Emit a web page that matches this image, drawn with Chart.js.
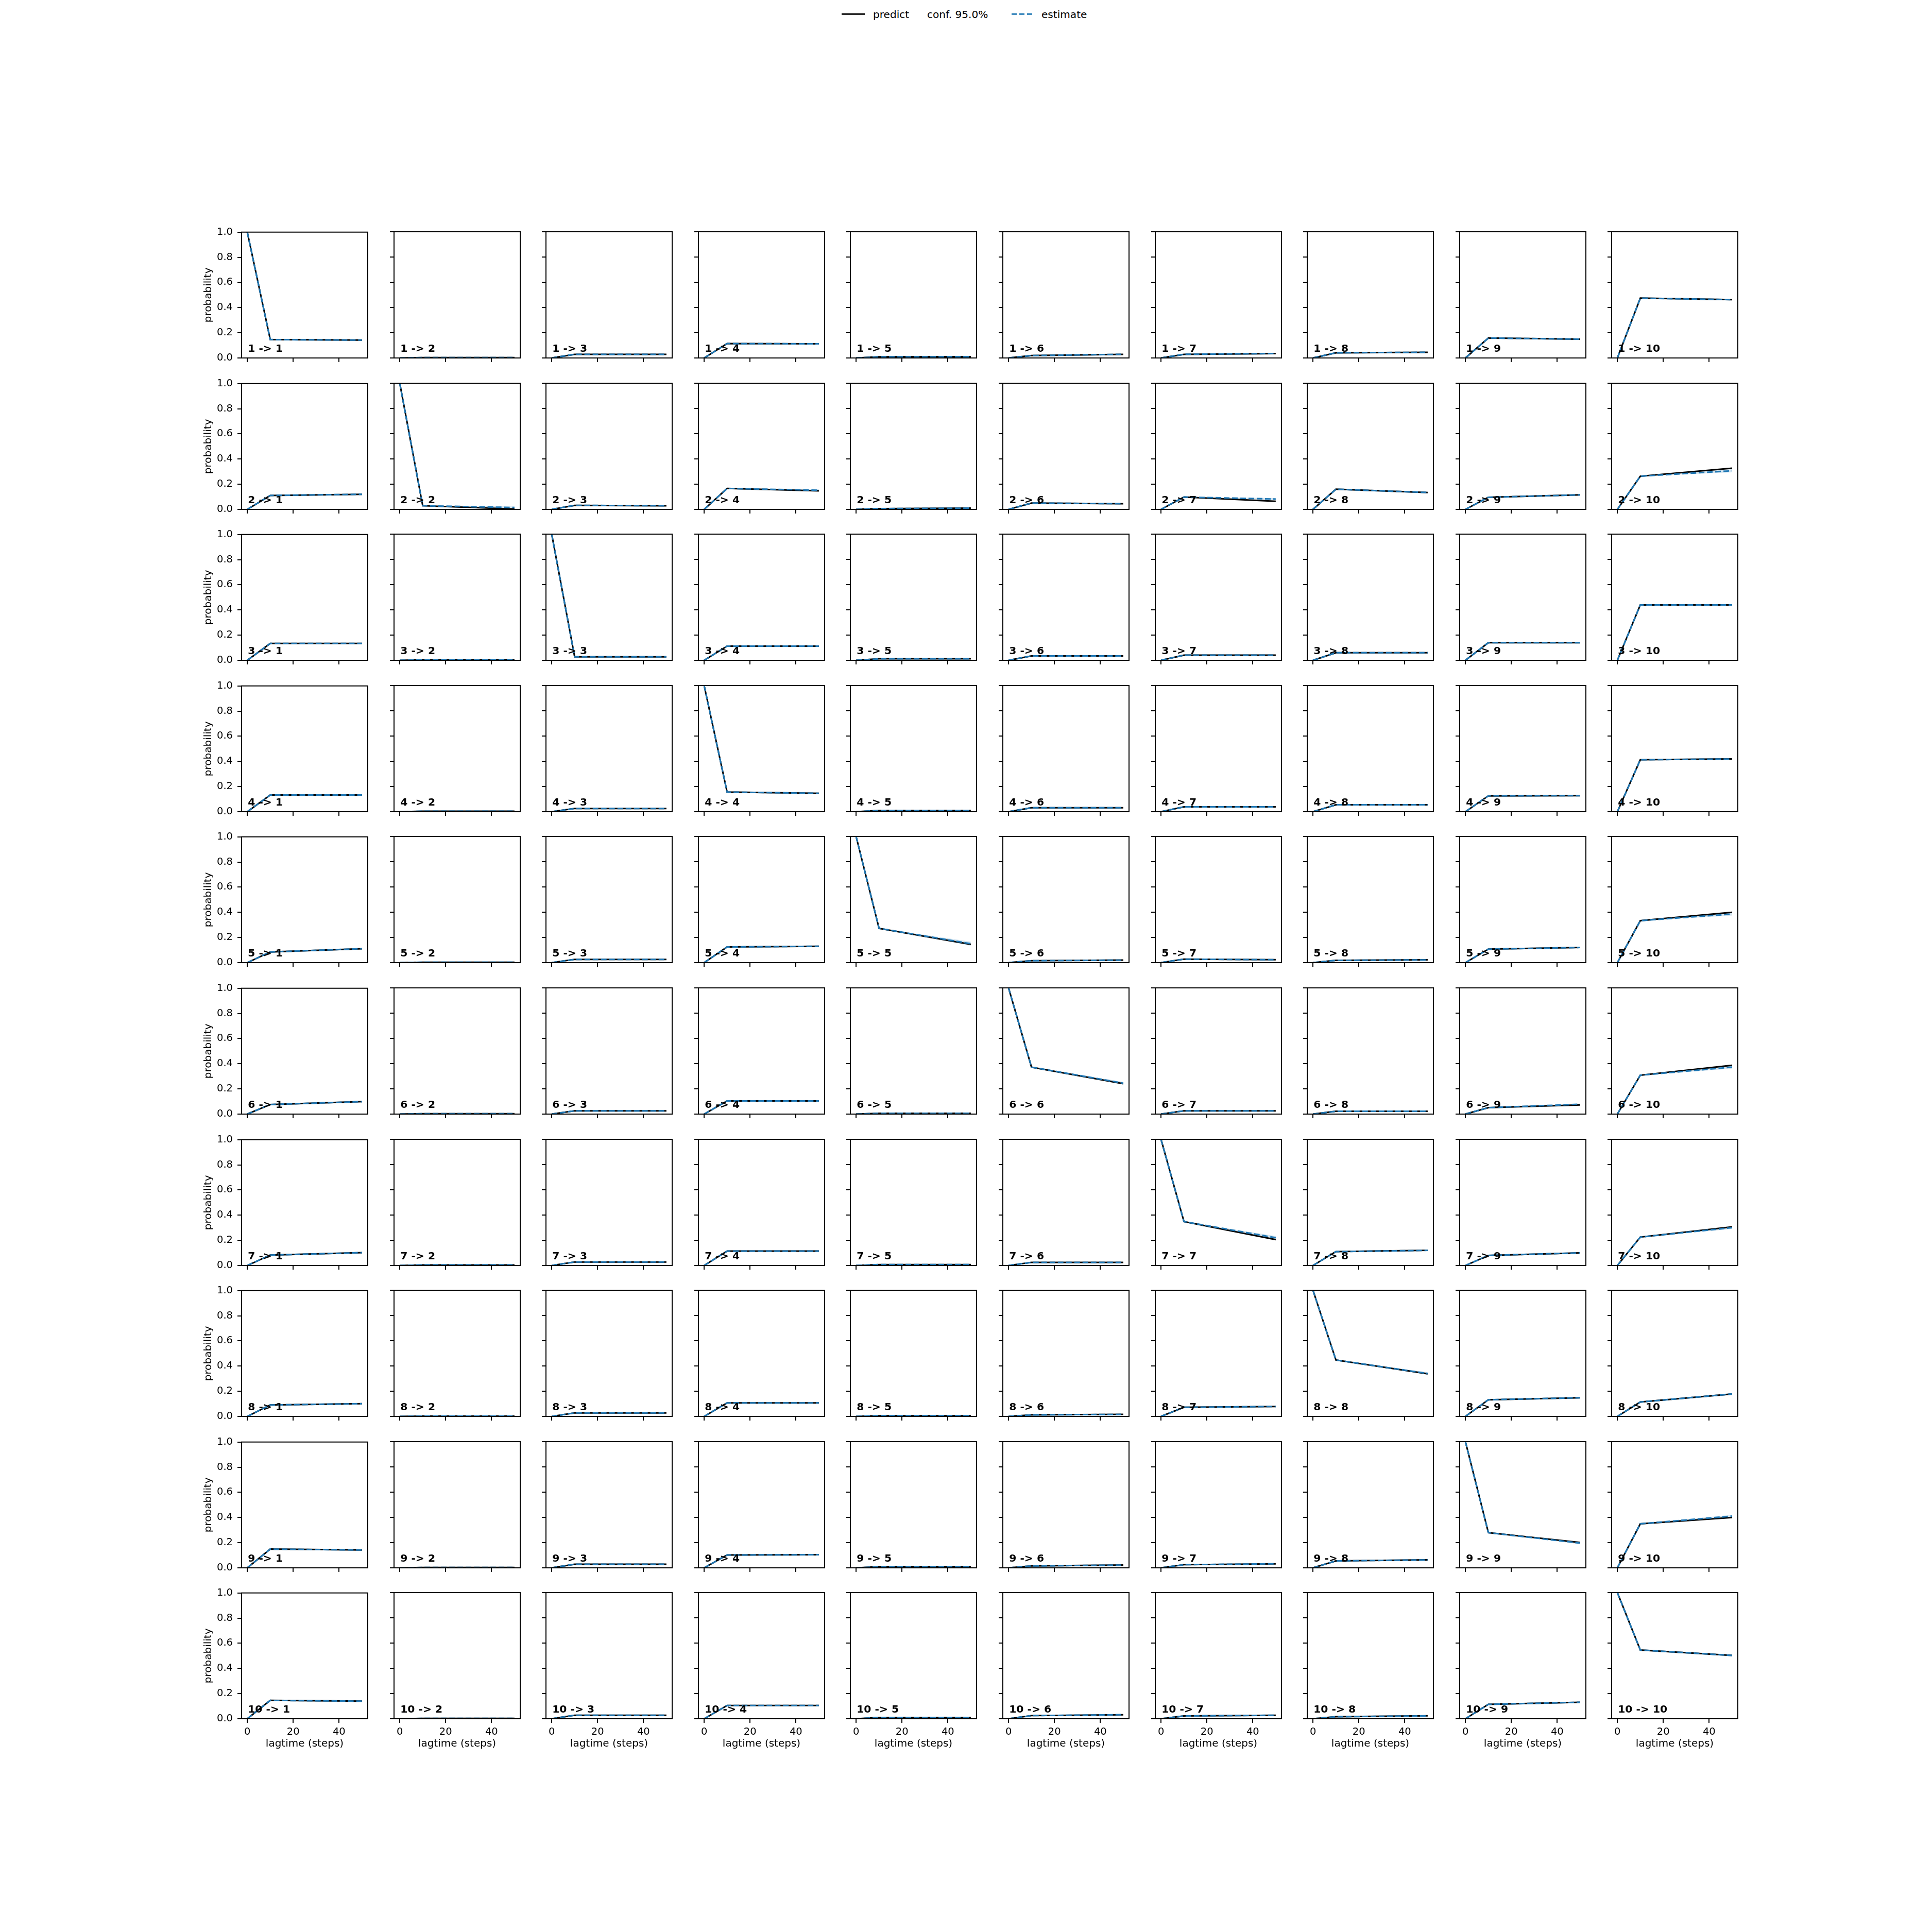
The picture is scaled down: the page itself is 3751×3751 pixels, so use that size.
<!DOCTYPE html>
<html>
<head>
<meta charset="utf-8">
<script src="https://cdn.jsdelivr.net/npm/chart.js@4/dist/chart.umd.min.js"></script>
<style>
  body { margin: 0; background: #fff; width: 3751px; height: 3751px; position: relative; font-family: "DejaVu Sans"; }
  canvas { position: absolute; }
</style>
</head>
<body>
<svg style="position:absolute;left:0;top:0" width="3751" height="60" font-family="DejaVu Sans" font-size="20.1">
  <line x1="1634" y1="27.3" x2="1679" y2="27.3" stroke="#000" stroke-width="2.7"/>
  <text x="1695" y="34.5" fill="#000">predict</text>
  <text x="1800" y="34.5" fill="#000">conf. 95.0%</text>
  <line x1="1964" y1="27.3" x2="2007" y2="27.3" stroke="#1f77b4" stroke-width="2.7" stroke-dasharray="10 5"/>
  <text x="2022" y="34.5" fill="#000">estimate</text>
</svg>

<script>
// states and lag times (steps)
const states = [1, 2, 3, 4, 5, 6, 7, 8, 9, 10];
const lagtimes = [0, 10, 50];
const xTicks = [0, 20, 40];
const yTicks = [0, 0.2, 0.4, 0.6, 0.8, 1.0];

// transition probabilities at lag 10 (model and estimate agree here)
const predictLag10 = [
  [0.146, 0.003, 0.029, 0.114, 0.009, 0.019, 0.029, 0.041, 0.158, 0.474],
  [0.111, 0.029, 0.032, 0.166, 0.006, 0.050, 0.098, 0.160, 0.096, 0.263],
  [0.134, 0.003, 0.028, 0.112, 0.012, 0.035, 0.041, 0.060, 0.140, 0.439],
  [0.133, 0.004, 0.026, 0.156, 0.010, 0.032, 0.039, 0.055, 0.126, 0.412],
  [0.085, 0.003, 0.026, 0.124, 0.272, 0.015, 0.028, 0.018, 0.107, 0.333],
  [0.076, 0.003, 0.026, 0.104, 0.006, 0.372, 0.026, 0.022, 0.051, 0.308],
  [0.083, 0.004, 0.028, 0.114, 0.007, 0.025, 0.348, 0.110, 0.080, 0.225],
  [0.091, 0.002, 0.028, 0.107, 0.005, 0.012, 0.072, 0.447, 0.132, 0.114],
  [0.149, 0.003, 0.029, 0.102, 0.009, 0.015, 0.025, 0.055, 0.279, 0.349],
  [0.146, 0.003, 0.028, 0.105, 0.010, 0.025, 0.022, 0.016, 0.114, 0.545]
];

// model prediction at lag 50
const predictLag50 = [
  [0.142, 0.003, 0.029, 0.112, 0.010, 0.029, 0.035, 0.045, 0.149, 0.462],
  [0.120, 0.003, 0.029, 0.147, 0.010, 0.045, 0.064, 0.134, 0.115, 0.327],
  [0.134, 0.003, 0.028, 0.112, 0.012, 0.035, 0.041, 0.060, 0.140, 0.439],
  [0.133, 0.004, 0.026, 0.146, 0.010, 0.032, 0.039, 0.055, 0.128, 0.418],
  [0.111, 0.003, 0.026, 0.130, 0.145, 0.020, 0.023, 0.022, 0.120, 0.399],
  [0.099, 0.003, 0.026, 0.104, 0.006, 0.241, 0.026, 0.022, 0.072, 0.387],
  [0.102, 0.004, 0.028, 0.114, 0.007, 0.025, 0.205, 0.120, 0.100, 0.306],
  [0.101, 0.002, 0.028, 0.107, 0.005, 0.016, 0.079, 0.338, 0.148, 0.178],
  [0.142, 0.003, 0.029, 0.104, 0.009, 0.022, 0.032, 0.063, 0.201, 0.399],
  [0.140, 0.003, 0.028, 0.105, 0.010, 0.032, 0.028, 0.023, 0.131, 0.502]
];

// direct estimate at lag 50
const estimateLag50 = [
  [0.142, 0.003, 0.029, 0.112, 0.010, 0.029, 0.035, 0.045, 0.149, 0.462],
  [0.120, 0.015, 0.029, 0.152, 0.010, 0.045, 0.082, 0.134, 0.115, 0.306],
  [0.134, 0.003, 0.028, 0.112, 0.012, 0.035, 0.041, 0.060, 0.140, 0.439],
  [0.133, 0.004, 0.026, 0.146, 0.010, 0.032, 0.039, 0.055, 0.128, 0.418],
  [0.111, 0.003, 0.026, 0.130, 0.150, 0.020, 0.023, 0.022, 0.120, 0.385],
  [0.099, 0.003, 0.026, 0.104, 0.006, 0.245, 0.026, 0.022, 0.078, 0.372],
  [0.102, 0.004, 0.028, 0.114, 0.007, 0.025, 0.220, 0.120, 0.100, 0.300],
  [0.101, 0.002, 0.028, 0.107, 0.005, 0.016, 0.079, 0.340, 0.148, 0.178],
  [0.142, 0.003, 0.029, 0.104, 0.009, 0.022, 0.032, 0.063, 0.196, 0.410],
  [0.140, 0.003, 0.028, 0.105, 0.010, 0.032, 0.028, 0.023, 0.131, 0.502]
];

// half width of the 95% band at lag 50 (zero at lag 0 and 10)
const confHalfLag50 = [
  [0.004, 0.001, 0.002, 0.003, 0.002, 0.003, 0.003, 0.003, 0.004, 0.006],
  [0.005, 0.008, 0.003, 0.007, 0.002, 0.004, 0.008, 0.006, 0.005, 0.012],
  [0.004, 0.001, 0.002, 0.004, 0.002, 0.003, 0.003, 0.004, 0.004, 0.006],
  [0.004, 0.001, 0.002, 0.006, 0.002, 0.003, 0.003, 0.004, 0.004, 0.006],
  [0.006, 0.001, 0.002, 0.005, 0.016, 0.003, 0.003, 0.003, 0.005, 0.012],
  [0.005, 0.001, 0.002, 0.004, 0.002, 0.010, 0.003, 0.003, 0.005, 0.012],
  [0.005, 0.001, 0.002, 0.004, 0.002, 0.003, 0.014, 0.005, 0.005, 0.010],
  [0.005, 0.001, 0.002, 0.004, 0.002, 0.003, 0.004, 0.010, 0.005, 0.008],
  [0.005, 0.001, 0.002, 0.004, 0.002, 0.003, 0.003, 0.004, 0.008, 0.010],
  [0.005, 0.001, 0.002, 0.004, 0.002, 0.003, 0.003, 0.003, 0.005, 0.008]
];

// grid geometry
const firstLeft = 469, firstTop = 450, stepX = 295.6, stepY = 293.6;
const yAxisW = 80, xAxisH = 65, padTop = 20, padRight = 20, plotSize = 245;

// frame + "i -> j" label
const panelPlugin = {
  id: 'panel',
  afterDatasetsDraw(chart, args, opts) {
    const { ctx, chartArea: a } = chart;
    ctx.save();
    ctx.strokeStyle = '#000';
    ctx.lineWidth = 2;
    ctx.strokeRect(a.left, a.top, a.width, a.height);
    ctx.font = 'bold 20.3px "DejaVu Sans"';
    ctx.fillStyle = '#000';
    ctx.textBaseline = 'alphabetic';
    ctx.textAlign = 'left';
    ctx.fillText(opts.text, a.left + 0.05 * a.width, a.bottom - 0.05 * a.height);
    ctx.restore();
  }
};

const pts = ys => lagtimes.map((x, k) => ({ x: x, y: ys[k] }));

states.forEach((from, i) => {
  states.forEach((to, j) => {
    const start = i === j ? 1 : 0;
    const predict = [start, predictLag10[i][j], predictLag50[i][j]];
    const estimate = [start, predictLag10[i][j], estimateLag50[i][j]];
    const half = [0, 0, confHalfLag50[i][j]];

    const canvas = document.createElement('canvas');
    canvas.width = yAxisW + plotSize + padRight;
    canvas.height = padTop + plotSize + xAxisH;
    canvas.style.left = (Math.round(firstLeft + j * stepX) - yAxisW) + 'px';
    canvas.style.top = (Math.round(firstTop + i * stepY) - padTop) + 'px';
    document.body.appendChild(canvas);

    const firstCol = j === 0;
    const lastRow = i === states.length - 1;

    new Chart(canvas, {
      type: 'line',
      data: {
        datasets: [
          {
            data: pts(estimate.map((v, k) => v + half[k])),
            borderWidth: 0, pointRadius: 0, fill: '+1',
            backgroundColor: 'rgba(31,119,180,0.2)', order: 2
          },
          {
            data: pts(estimate.map((v, k) => v - half[k])),
            borderWidth: 0, pointRadius: 0, fill: false, order: 3
          },
          {
            label: 'predict', data: pts(predict),
            borderColor: '#000', borderWidth: 3, pointRadius: 0, fill: false, order: 1
          },
          {
            label: 'estimate', data: pts(estimate),
            borderColor: '#1f77b4', borderWidth: 3, borderDash: [11, 5],
            pointRadius: 0, fill: false, order: 0
          }
        ]
      },
      options: {
        responsive: false,
        animation: false,
        devicePixelRatio: 1,
        layout: { padding: { top: padTop, right: padRight, left: 0, bottom: 0 } },
        plugins: {
          legend: { display: false },
          tooltip: { enabled: false },
          panel: { text: from + ' -> ' + to }
        },
        scales: {
          x: {
            type: 'linear', min: -2.5, max: 52.5,
            afterBuildTicks: s => { s.ticks = xTicks.map(v => ({ value: v })); },
            afterFit: s => { s.height = xAxisH; },
            grid: { drawOnChartArea: false, drawTicks: true, tickLength: 8, color: '#000', lineWidth: 2 },
            border: { display: false },
            ticks: { display: lastRow, color: '#000', padding: 6, maxRotation: 0,
                     font: { family: 'DejaVu Sans', size: 19.5 } },
            title: { display: lastRow, text: 'lagtime (steps)', color: '#000',
                     font: { family: 'DejaVu Sans', size: 20 }, padding: { top: 4, bottom: 4 } }
          },
          y: {
            min: 0, max: 1,
            afterBuildTicks: s => { s.ticks = yTicks.map(v => ({ value: v })); },
            afterFit: s => { s.width = yAxisW; },
            grid: { drawOnChartArea: false, drawTicks: true, tickLength: 8, color: '#000', lineWidth: 2 },
            border: { display: false },
            ticks: { display: firstCol, color: '#000', padding: 9,
                     font: { family: 'DejaVu Sans', size: 19.5 },
                     callback: v => Number(v).toFixed(1) },
            title: { display: firstCol, text: 'probability', color: '#000',
                     font: { family: 'DejaVu Sans', size: 20 }, padding: { top: 4, bottom: 4 } }
          }
        }
      },
      plugins: [panelPlugin]
    });
  });
});
</script>
</body>
</html>
